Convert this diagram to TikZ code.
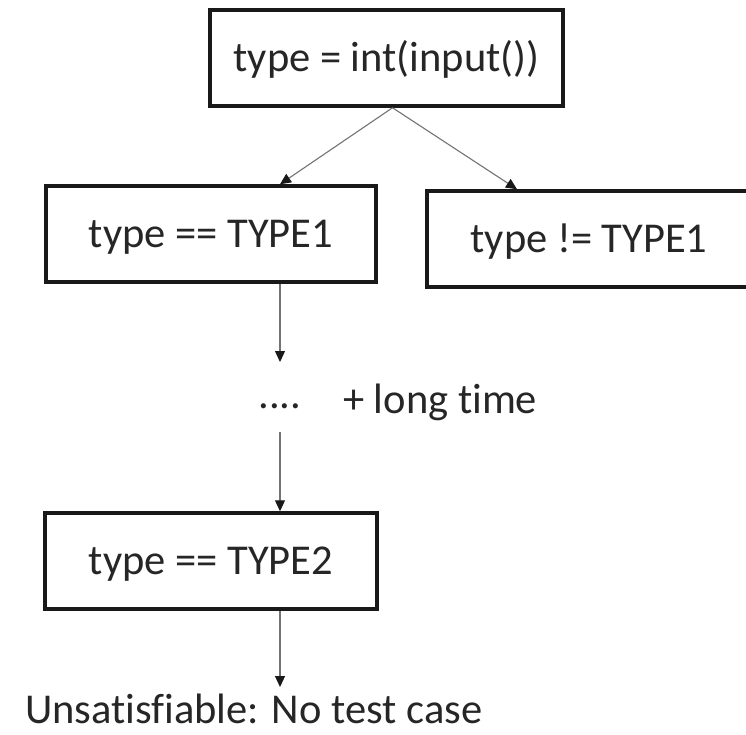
\documentclass[tikz,border=0pt]{standalone}
\usepackage{fontspec}
\setmainfont{Carlito}[Ligatures=NoCommon]
\usetikzlibrary{arrows.meta}
\begin{document}
\begin{tikzpicture}[x=1pt,y=-1pt,
  box/.style={draw=black!90, line width=3.5pt, minimum height=96pt, inner sep=0pt,
              text height=31pt, text depth=4pt,
              font=\fontsize{42.5}{50}\selectfont, text=black!85},
  arr/.style={draw=black!55, line width=1.1pt,
              -{Triangle[length=11pt,width=10pt,color=black!90]}},
  lbl/.style={font=\fontsize{42.5}{50}\selectfont, text=black!85, inner sep=0pt}]
\useasboundingbox[fill=white] (0,0) rectangle (746,734);

% condition boxes
\node[box, minimum width=353pt] (top)    at (386.5,58) {type = int(input())};
\node[box, minimum width=330pt] (left)   at (211,234)  {type == TYPE1};
\node[box, minimum width=324pt] (right)  at (589,239)  {type != TYPE1};
\node[box, minimum width=332pt] (bottom) at (211,561)  {type == TYPE2};

% elided path in between
\coordinate (d1) at (280,362);
\coordinate (d2) at (280,432);
\coordinate (tip) at (280,687);
\node[lbl, anchor=base] (dots) at (280,408) {....};
\node[lbl, anchor=base west] (long) at (343,413) {+ long time};
\node[lbl, anchor=base west] (unsat) at (25,723) {Unsatisfiable: No test case};

% connectors
\draw[arr] ([xshift=6pt]top.south) -- ([xshift=69pt]left.north);
\draw[arr] ([xshift=6pt]top.south) -- ([xshift=-72pt]right.north);
\draw[arr] (left.south -| d1) -- (d1);
\draw[arr] (d2) -- (bottom.north -| d2);
\draw[arr] (bottom.south -| tip) -- (tip);
\end{tikzpicture}
\end{document}
